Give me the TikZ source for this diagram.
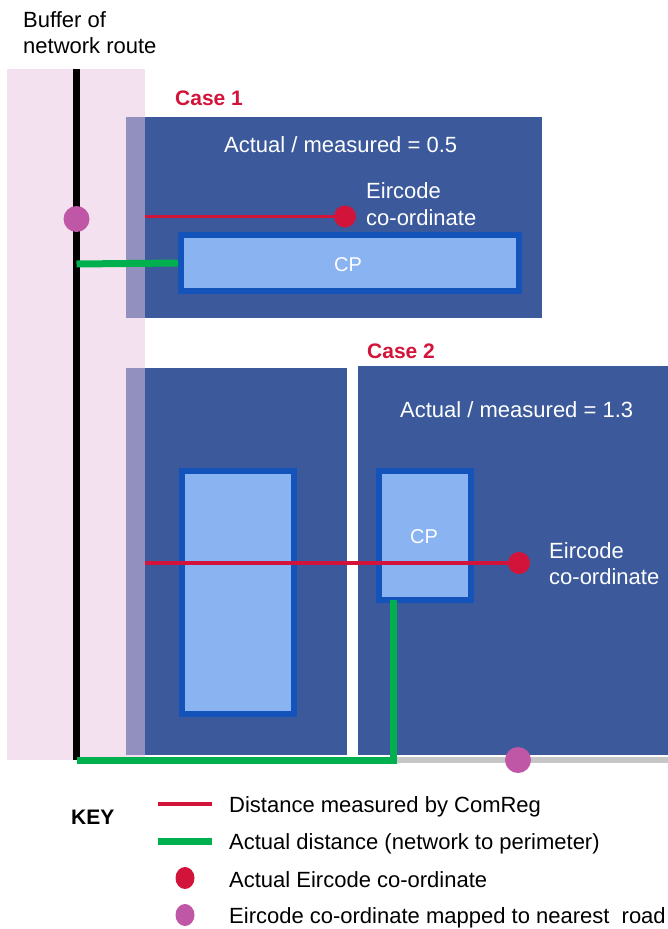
\documentclass[tikz,border=0pt]{standalone}
\usepackage{fontspec}
\setmainfont{Liberation Sans}
\usetikzlibrary{shapes.geometric}
\definecolor{pinkbuf}{HTML}{F3E1EF}
\definecolor{darkblue}{HTML}{3C5A9B}
\definecolor{overlap}{HTML}{9190BF}
\definecolor{cpfill}{HTML}{8AB3F2}
\definecolor{cpborder}{HTML}{1454BA}
\definecolor{redc}{HTML}{D2143A}
\definecolor{greenc}{HTML}{00B04F}
\definecolor{magc}{HTML}{C057A6}
\definecolor{grayc}{HTML}{C6C6C6}
\tikzset{
  txt/.style={inner sep=0pt, font=\fontsize{22}{26}\selectfont, anchor=base west},
  wtxt/.style={txt, text=white},
  casetxt/.style={txt, text=redc, font=\fontsize{21}{25}\selectfont\bfseries},
  cpbox/.style={draw=cpborder, fill=cpfill, line width=6pt, inner sep=0pt, text=white, font=\fontsize{20}{24}\selectfont},
  reddot/.style={circle, fill=redc, inner sep=0pt, minimum size=22pt},
  magdot/.style={circle, fill=magc, inner sep=0pt, minimum size=26pt},
  keyred/.style={ellipse, fill=redc, inner sep=0pt, minimum width=19pt, minimum height=22pt},
  keymag/.style={ellipse, fill=magc, inner sep=0pt, minimum width=19pt, minimum height=22pt},
  redline/.style={draw=redc, line width=3.5pt},
  greenline/.style={draw=greenc, line width=7pt, line join=miter},
  grayline/.style={draw=grayc, line width=6pt},
  roadline/.style={draw=black, line width=7pt}
}
\begin{document}
\begin{tikzpicture}[x=1pt,y=-1pt]
\useasboundingbox (0,0) rectangle (668,929);
% buffer and blocks
\fill[pinkbuf] (7,69) rectangle (145,760);
\fill[darkblue] (145,117) rectangle (542,318);
\fill[overlap] (126,117) rectangle (145,318);
\fill[darkblue] (145,368) rectangle (347,755);
\fill[overlap] (126,368) rectangle (145,755);
\fill[darkblue] (358,366) rectangle (668,755);
% road
\coordinate (roadtop) at (76.5,69);
\coordinate (roadbot) at (76.5,760);
\draw[roadline] (roadtop) -- (roadbot);
% coordinates
\coordinate (g1) at (76.5,264);
\coordinate (g2) at (393.5,600);
\coordinate (grayend) at (668,760);
\coordinate (r1s) at (145,216.5);
\coordinate (r2s) at (145,563);
% gray road
\draw[grayline] (g2 |- roadbot) -- (grayend);
% CP boxes
\node[cpbox, minimum width=338pt, minimum height=56pt] (cp1) at (350,263) {};
\node[cpbox, minimum width=112pt, minimum height=243pt] (blk2) at (238,592.5) {};
\node[cpbox, minimum width=92pt, minimum height=129pt] (cp2) at (425,535.5) {};
% green actual distances
\draw[greenline] (g1) -- (cp1.west);
\draw[greenline] (g2) |- (roadbot);
\node[cpbox, draw=none, fill=none] (cp1t) at (348,265) {CP};
\node[cpbox, draw=none, fill=none] (cp2t) at (424,537) {CP};
% dots and red lines
\node[reddot] (rd1) at (345,216.5) {};
\node[reddot] (rd2) at (519,563) {};
\draw[redline] (r1s) -- (rd1.center);
\draw[redline] (r2s) -- (rd2.center);
\node[magdot] (md1) at (76.5,219) {};
\node[magdot] (md2) at (518,760) {};
% texts
\node[txt] (buf1) at (23,27) {Buffer of};
\node[txt] (buf2) at (23,53) {network route};
\node[casetxt] (case1) at (175,105) {Case 1};
\node[wtxt] (ratio1) at (224,152) {Actual / measured = 0.5};
\node[wtxt] (eir1a) at (366,198) {Eircode};
\node[wtxt] (eir1b) at (366,225) {co-ordinate};
\node[casetxt] (case2) at (367,358) {Case 2};
\node[wtxt] (ratio2) at (400,417) {Actual / measured = 1.3};
\node[wtxt] (eir2a) at (549,558) {Eircode};
\node[wtxt] (eir2b) at (549,584) {co-ordinate};
% key
\node[txt, font=\fontsize{21}{25}\selectfont\bfseries] (key) at (71,824) {KEY};
\coordinate (k1a) at (158,804);
\coordinate (k1b) at (212,804);
\coordinate (k2a) at (158,841);
\coordinate (k2b) at (212,841);
\draw[redline] (k1a) -- (k1b);
\draw[greenline] (k2a) -- (k2b);
\node[keyred] (kd1) at (185,878) {};
\node[keymag] (kd2) at (185,915) {};
\node[txt] (kt1) at (229,812.5) {Distance measured by ComReg};
\node[txt] (kt2) at (229,849.5) {Actual distance (network to perimeter)};
\node[txt] (kt3) at (229,887) {Actual Eircode co-ordinate};
\node[txt] (kt4) at (229,923) {Eircode co-ordinate mapped to nearest~ road};
\end{tikzpicture}
\end{document}
